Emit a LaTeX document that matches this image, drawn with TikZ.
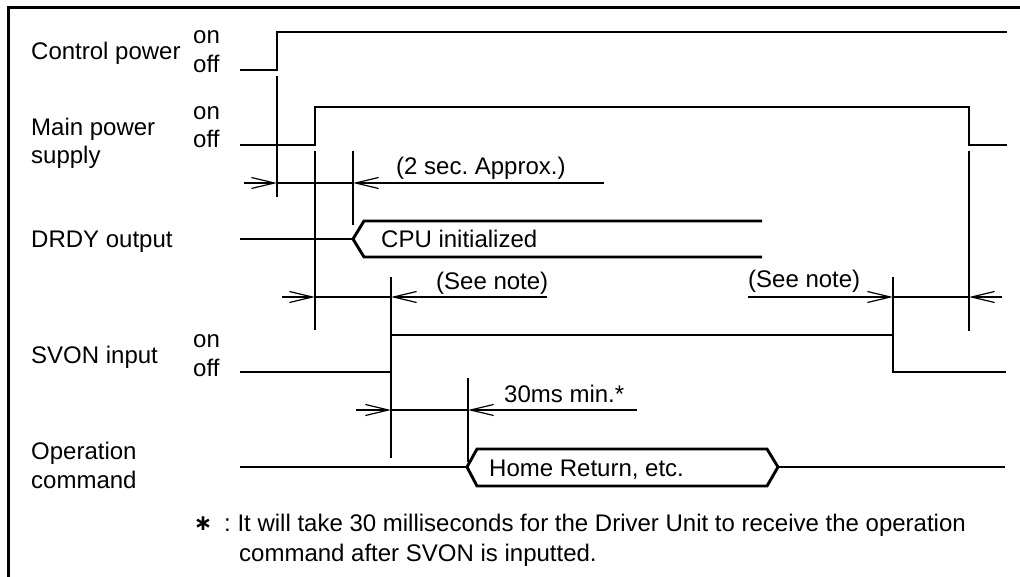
\documentclass[tikz,border=0pt]{standalone}
\usepackage{fontspec}
\setmainfont{Liberation Sans}
\newfontfamily\djv{DejaVu Sans}
\usetikzlibrary{arrows.meta}
\begin{document}
\frenchspacing
\begin{tikzpicture}[x=1pt,y=-1pt,
  sig/.style={line width=2.9pt, line join=miter},
  dimline/.style={line width=1.2pt},
  dimarrow/.style={dimline, -{Straight Barb[length=23pt,width=11pt,line width=1.2pt]}},
  lbl/.style={anchor=base west, inner sep=0pt, font=\fontsize{24}{28}\selectfont},
]
\useasboundingbox (0,0) rectangle (1020,577);
% frame
\draw[line width=3pt] (8,580) -- (8,8) -- (1023,8);

% labels
\node[lbl] (lcp) at (31,60) {Control power};
\node[lbl] (lcpon) at (193,44) {on};
\node[lbl] (lcpoff) at (193,73) {off};
\node[lbl] (lmp1) at (31,136) {Main power};
\node[lbl] (lmp2) at (31,164) {supply};
\node[lbl] (lmpon) at (193,120) {on};
\node[lbl] (lmpoff) at (193,148) {off};
\node[lbl] (ldr) at (31,248) {DRDY output};
\node[lbl] (lsv) at (31,363) {SVON input};
\node[lbl] (lsvon) at (193,347) {on};
\node[lbl] (lsvoff) at (193,376) {off};
\node[lbl] (lop1) at (31,459) {Operation};
\node[lbl] (lop2) at (31,488) {command};

% signals
\draw[sig] (240,70) -- (277,70) -- (277,32) -- (1007,32);
\draw[sig] (240,145) -- (315,145) -- (315,107) -- (969,107) -- (969,145) -- (1007,145);
\draw[sig] (240,239) -- (353,239);
\draw[sig] (762,221) -- (364,221) -- (353,239) -- (364,257) -- (762,257);
\node[lbl] (tcpu) at (381,248) {CPU initialized};
\draw[sig] (240,372) -- (391,372) -- (391,335) -- (893,335) -- (893,372) -- (1006,372);
\draw[sig] (240,467) -- (467,467);
\draw[sig] (467,467) -- (477,449) -- (767,449) -- (778,467) -- (767,486) -- (477,486) -- cycle;
\draw[sig] (778,467) -- (1005,467);
\node[lbl] (thome) at (489,476) {Home Return, etc.};

% vertical reference lines
\draw[dimline] (277,76) -- (277,197);
\draw[dimline] (315,151) -- (315,330);
\draw[dimline] (353,151) -- (353,225);
\draw[dimline] (391,277) -- (391,458);
\draw[dimline] (468,378) -- (468,462);
\draw[dimline] (893,277) -- (893,335);
\draw[dimline] (969,151) -- (969,331);

% dimension lines
\draw[dimarrow] (244,183) -- (277,183);
\draw[dimarrow] (604,183) -- (353,183);
\draw[dimline] (277,183) -- (353,183);
\node[lbl] (t2s) at (396,175) {(2 sec. Approx.)};

\draw[dimarrow] (282,297) -- (315,297);
\draw[dimarrow] (547,297) -- (391,297);
\draw[dimline] (315,297) -- (391,297);
\node[lbl] (tsn1) at (436,290) {(See note)};

\draw[dimarrow] (748,297) -- (893,297);
\draw[dimarrow] (1002,297) -- (969,297);
\draw[dimline] (893,297) -- (969,297);
\node[lbl] (tsn2) at (748,288) {(See note)};

\draw[dimarrow] (356,410) -- (391,410);
\draw[dimarrow] (637,410) -- (468,410);
\draw[dimline] (391,410) -- (468,410);
\node[lbl] (t30) at (504,402) {30ms min.*};

% footnote
\node[inner sep=0pt, font=\djv\bfseries\fontsize{22}{22}\selectfont] (star) at (203,524) {∗};
\node[lbl] (fn1) at (224,531) {: It will take 30 milliseconds for the Driver Unit to receive the operation};
\node[lbl] (fn2) at (239,561) {command after SVON is inputted.};
\end{tikzpicture}
\end{document}
